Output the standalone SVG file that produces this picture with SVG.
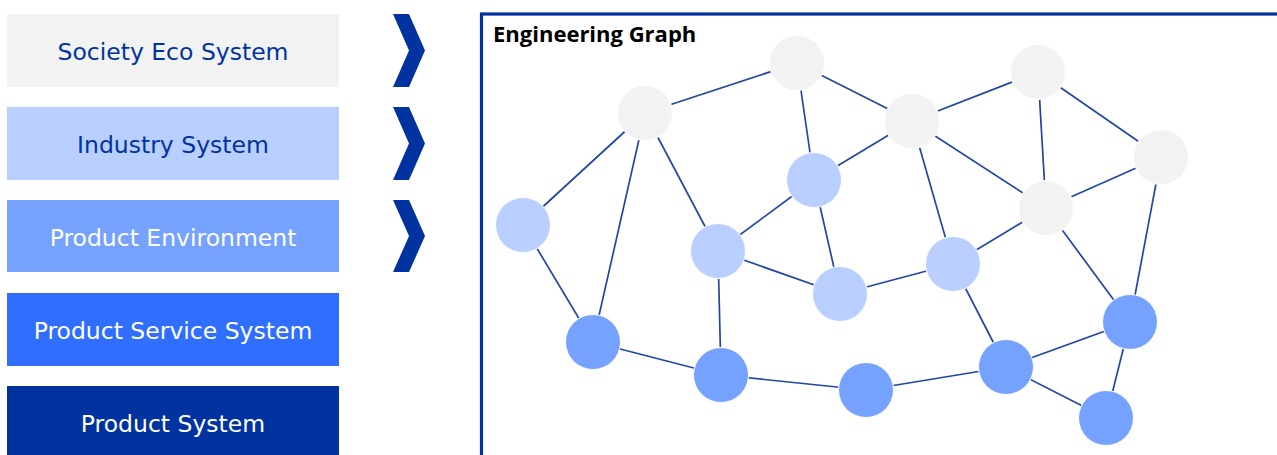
<svg xmlns="http://www.w3.org/2000/svg" width="1277" height="455" viewBox="0 0 1277 455">
<style>
.lbl{font-family:"DejaVu Sans","Liberation Sans",sans-serif;font-size:23.5px;text-anchor:middle;dominant-baseline:central}
.dk{fill:#0033a0}
.wh{fill:#ffffff}
.chev{fill:#0033a0}
.edge{stroke:#2346a8;stroke-width:1.7;fill:none}
.n{stroke:#ffffff;stroke-width:1}
.g{fill:#f2f2f2}
.lb{fill:#b9cfff}
.mb{fill:#75a1ff}
.title{font-family:"Open Sans","Liberation Sans",sans-serif;font-size:22px;font-weight:bold;fill:#000000}
</style>
<rect width="1277" height="455" fill="#ffffff"/>
<g id="layer-society"><rect x="7" y="14" width="332" height="73" fill="#f2f2f2"/><text class="lbl dk" x="173" y="52">Society Eco System</text></g>
<g id="layer-industry"><rect x="7" y="107" width="332" height="73" fill="#b9cfff"/><text class="lbl dk" x="173" y="145">Industry System</text></g>
<g id="layer-environment"><rect x="7" y="200" width="332" height="72" fill="#75a1ff"/><text class="lbl wh" x="173" y="238">Product Environment</text></g>
<g id="layer-pss"><rect x="7" y="293" width="332" height="73" fill="#306eff"/><text class="lbl wh" x="173" y="331">Product Service System</text></g>
<g id="layer-product"><rect x="7" y="386" width="332" height="72" fill="#0033a0"/><text class="lbl wh" x="173" y="424">Product System</text></g>
<g id="chevrons">
<polygon class="chev" points="393,14 409,14 425,50.5 409,87 393,87 409,50.5"/>
<polygon class="chev" points="393,107 409,107 425,143.5 409,180 393,180 409,143.5"/>
<polygon class="chev" points="393,200 409,200 425,236 409,272 393,272 409,236"/>
</g>
<g id="frame">
<rect x="481.5" y="14" width="900" height="500" fill="none" stroke="#0033a0" stroke-width="3.2"/>
<text class="title" x="493" y="42">Engineering Graph</text>
</g>
<g id="connectors">
<line class="edge" x1="645" y1="113" x2="797" y2="63"/>
<line class="edge" x1="645" y1="113" x2="523" y2="225"/>
<line class="edge" x1="645" y1="113" x2="593" y2="342"/>
<line class="edge" x1="645" y1="113" x2="718" y2="251"/>
<line class="edge" x1="797" y1="63" x2="912" y2="121"/>
<line class="edge" x1="797" y1="63" x2="814" y2="180"/>
<line class="edge" x1="912" y1="121" x2="1038" y2="72"/>
<line class="edge" x1="912" y1="121" x2="814" y2="180"/>
<line class="edge" x1="912" y1="121" x2="1046" y2="208"/>
<line class="edge" x1="912" y1="121" x2="953" y2="264"/>
<line class="edge" x1="1038" y1="72" x2="1046" y2="208"/>
<line class="edge" x1="1038" y1="72" x2="1161" y2="157"/>
<line class="edge" x1="1161" y1="157" x2="1046" y2="208"/>
<line class="edge" x1="1161" y1="157" x2="1130" y2="322"/>
<line class="edge" x1="1046" y1="208" x2="953" y2="264"/>
<line class="edge" x1="1046" y1="208" x2="1130" y2="322"/>
<line class="edge" x1="814" y1="180" x2="718" y2="251"/>
<line class="edge" x1="814" y1="180" x2="840" y2="294"/>
<line class="edge" x1="718" y1="251" x2="840" y2="294"/>
<line class="edge" x1="718" y1="251" x2="721" y2="375"/>
<line class="edge" x1="840" y1="294" x2="953" y2="264"/>
<line class="edge" x1="953" y1="264" x2="1006" y2="367"/>
<line class="edge" x1="523" y1="225" x2="593" y2="342"/>
<line class="edge" x1="593" y1="342" x2="721" y2="375"/>
<line class="edge" x1="721" y1="375" x2="866" y2="390"/>
<line class="edge" x1="866" y1="390" x2="1006" y2="367"/>
<line class="edge" x1="1006" y1="367" x2="1130" y2="322"/>
<line class="edge" x1="1006" y1="367" x2="1106" y2="418"/>
<line class="edge" x1="1130" y1="322" x2="1106" y2="418"/>
</g>
<g id="node-a"><circle class="n g" cx="645" cy="113" r="27.5"/></g>
<g id="node-b"><circle class="n g" cx="797" cy="63" r="27.5"/></g>
<g id="node-c"><circle class="n g" cx="912" cy="121" r="27.5"/></g>
<g id="node-d"><circle class="n g" cx="1038" cy="72" r="27.5"/></g>
<g id="node-e"><circle class="n g" cx="1161" cy="157" r="27.5"/></g>
<g id="node-f"><circle class="n g" cx="1046" cy="208" r="27.5"/></g>
<g id="node-g"><circle class="n lb" cx="814" cy="180" r="27.5"/></g>
<g id="node-h"><circle class="n lb" cx="523" cy="225" r="27.5"/></g>
<g id="node-i"><circle class="n lb" cx="718" cy="251" r="27.5"/></g>
<g id="node-j"><circle class="n lb" cx="840" cy="294" r="27.5"/></g>
<g id="node-k"><circle class="n lb" cx="953" cy="264" r="27.5"/></g>
<g id="node-l"><circle class="n mb" cx="593" cy="342" r="27.5"/></g>
<g id="node-m"><circle class="n mb" cx="721" cy="375" r="27.5"/></g>
<g id="node-n"><circle class="n mb" cx="866" cy="390" r="27.5"/></g>
<g id="node-o"><circle class="n mb" cx="1006" cy="367" r="27.5"/></g>
<g id="node-p"><circle class="n mb" cx="1130" cy="322" r="27.5"/></g>
<g id="node-q"><circle class="n mb" cx="1106" cy="418" r="27.5"/></g>
</svg>
